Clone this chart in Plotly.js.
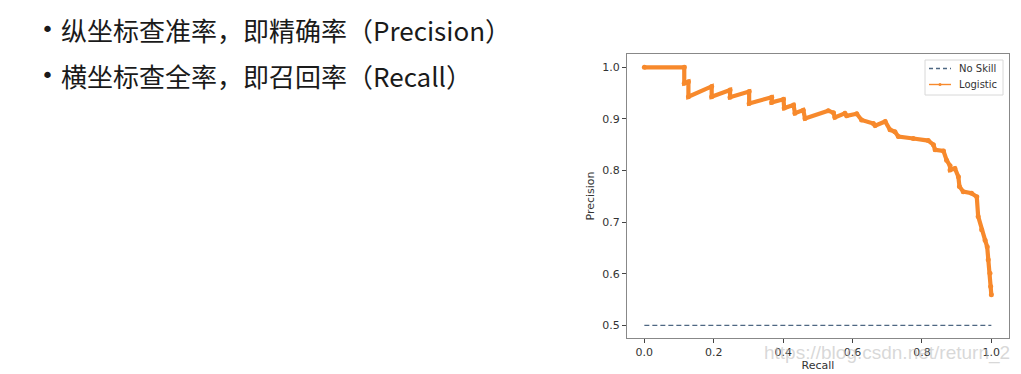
<!DOCTYPE html>
<html>
<head>
<meta charset="utf-8">
<script src="https://cdn.plot.ly/plotly-3.0.1.min.js"></script>
<style>
  html, body { margin: 0; padding: 0; background: #ffffff; }
  #chart { width: 1021px; height: 374px; }
</style>
</head>
<body>
<div id="chart"></div>
<script>
// Slide bullets
const bulletLines = [
  "纵坐标查准率，即精确率（Precision）",
  "横坐标查全率，即召回率（Recall）"
];

// No-skill baseline
const noSkillRecall = [0, 1];
const noSkillPrecision = [0.5, 0.5];

// Logistic regression precision-recall curve
const recall = [
  0.000, 0.115, 0.115, 0.127, 0.127, 0.194, 0.194, 0.247, 0.247, 0.302,
  0.302, 0.367, 0.367, 0.401, 0.403, 0.430, 0.434, 0.458, 0.463, 0.530,
  0.545, 0.549, 0.578, 0.583, 0.612, 0.626, 0.660, 0.665, 0.694, 0.708,
  0.722, 0.732, 0.775, 0.818, 0.833, 0.838, 0.862, 0.871, 0.881, 0.881,
  0.895, 0.905, 0.908, 0.919, 0.943, 0.958, 0.962, 0.972, 0.982, 0.988,
  0.991, 0.996, 0.998, 1.000
];
const precision = [
  1.000, 1.000, 0.969, 0.972, 0.943, 0.963, 0.943, 0.956, 0.942, 0.953,
  0.930, 0.942, 0.932, 0.938, 0.921, 0.927, 0.911, 0.917, 0.901, 0.916,
  0.912, 0.903, 0.911, 0.906, 0.910, 0.898, 0.891, 0.887, 0.895, 0.879,
  0.875, 0.866, 0.862, 0.858, 0.850, 0.840, 0.838, 0.820, 0.809, 0.801,
  0.804, 0.788, 0.769, 0.759, 0.756, 0.749, 0.711, 0.685, 0.665, 0.652,
  0.627, 0.601, 0.575, 0.559
];

const xTicks = [0.0, 0.2, 0.4, 0.6, 0.8, 1.0];
const xTickText = ["0.0", "0.2", "0.4", "0.6", "0.8", "1.0"];
const yTicks = [0.5, 0.6, 0.7, 0.8, 0.9, 1.0];
const yTickText = ["0.5", "0.6", "0.7", "0.8", "0.9", "1.0"];
const legendNames = ["No Skill", "Logistic"];

const orange = "#f7892c";
const blueGray = "#4e6782";
const W = 1021, H = 374;
const px = v => v / W;          // pixel -> paper x
const py = v => 1 - v / H;      // pixel -> paper y

const traces = [
  {
    x: noSkillRecall, y: noSkillPrecision, name: legendNames[0],
    type: "scatter", mode: "lines",
    line: { color: blueGray, width: 1.3, dash: "5px,3px" }
  },
  {
    x: recall, y: precision, name: legendNames[1],
    type: "scatter", mode: "lines+markers",
    line: { color: orange, width: 4.2 },
    marker: { color: orange, size: 5 }
  }
];

const tickFont = { family: "DejaVu Sans", size: 11, color: "#333" };
const legendFont = { family: "DejaVu Sans", size: 10, color: "#333" };

// Hand-drawn legend box in the upper-right corner of the axes
const legendShapes = [
  { type: "rect", xref: "paper", yref: "paper",
    x0: px(925), x1: px(1003), y0: py(95), y1: py(60),
    line: { color: "#d8d8d8", width: 1 }, fillcolor: "rgba(255,255,255,0.85)" },
  { type: "line", xref: "paper", yref: "paper",
    x0: px(929), x1: px(951), y0: py(68.5), y1: py(68.5),
    line: { color: blueGray, width: 1.3, dash: "4px,3px" } },
  { type: "line", xref: "paper", yref: "paper",
    x0: px(929), x1: px(951), y0: py(84.5), y1: py(84.5),
    line: { color: orange, width: 1.4 } },
  { type: "circle", xref: "paper", yref: "paper",
    x0: px(938.5), x1: px(941.5), y0: py(86), y1: py(83),
    line: { color: orange, width: 0 }, fillcolor: orange }
];

const layout = {
  width: W, height: H,
  margin: { l: 0, r: 0, t: 0, b: 0 },
  paper_bgcolor: "#ffffff",
  plot_bgcolor: "#ffffff",
  showlegend: false,
  xaxis: {
    domain: [0.6141, 0.9883],
    range: [-0.05, 1.051],
    tickvals: xTicks, ticktext: xTickText,
    ticks: "outside", ticklen: 4, tickcolor: "#444", tickwidth: 1,
    tickfont: tickFont,
    showgrid: false, zeroline: false,
    showline: true, mirror: true, linecolor: "#888", linewidth: 1,
    title: { text: "Recall", font: { family: "DejaVu Sans", size: 11, color: "#333" }, standoff: 3 }
  },
  yaxis: {
    domain: [0.0963, 0.8556],
    range: [0.4754, 1.0258],
    tickvals: yTicks, ticktext: yTickText,
    ticks: "outside", ticklen: 4, tickcolor: "#444", tickwidth: 1,
    tickfont: tickFont,
    showgrid: false, zeroline: false,
    showline: true, mirror: true, linecolor: "#888", linewidth: 1,
    title: { text: "Precision", font: { family: "DejaVu Sans", size: 11, color: "#333" }, standoff: 5 }
  },
  shapes: legendShapes,
  annotations: [
    { text: "•", xref: "paper", yref: "paper", x: px(39), y: py(30),
      xanchor: "left", yanchor: "middle", showarrow: false,
      font: { family: "DejaVu Sans", size: 22, color: "#1a1a1a" } },
    { text: bulletLines[0], xref: "paper", yref: "paper",
      x: px(59), y: py(30), xanchor: "left", yanchor: "middle", showarrow: false,
      font: { family: "Noto Sans CJK SC", size: 26, color: "#1a1a1a" } },
    { text: "•", xref: "paper", yref: "paper", x: px(39), y: py(75),
      xanchor: "left", yanchor: "middle", showarrow: false,
      font: { family: "DejaVu Sans", size: 22, color: "#1a1a1a" } },
    { text: bulletLines[1], xref: "paper", yref: "paper",
      x: px(59), y: py(75), xanchor: "left", yanchor: "middle", showarrow: false,
      font: { family: "Noto Sans CJK SC", size: 26, color: "#1a1a1a" } },
    { text: legendNames[0], xref: "paper", yref: "paper",
      x: px(957), y: py(68.5), xanchor: "left", yanchor: "middle", showarrow: false,
      font: legendFont },
    { text: legendNames[1], xref: "paper", yref: "paper",
      x: px(957), y: py(84.5), xanchor: "left", yanchor: "middle", showarrow: false,
      font: legendFont },
    { text: "https://blog.csdn.net/return_2", xref: "paper", yref: "paper",
      x: px(1012), y: py(353), xanchor: "right", yanchor: "middle", showarrow: false,
      font: { family: "Liberation Sans", size: 19, color: "rgba(190,190,190,0.6)" } }
  ]
};

Plotly.newPlot("chart", traces, layout, { displayModeBar: false, staticPlot: true });
</script>
</body>
</html>
